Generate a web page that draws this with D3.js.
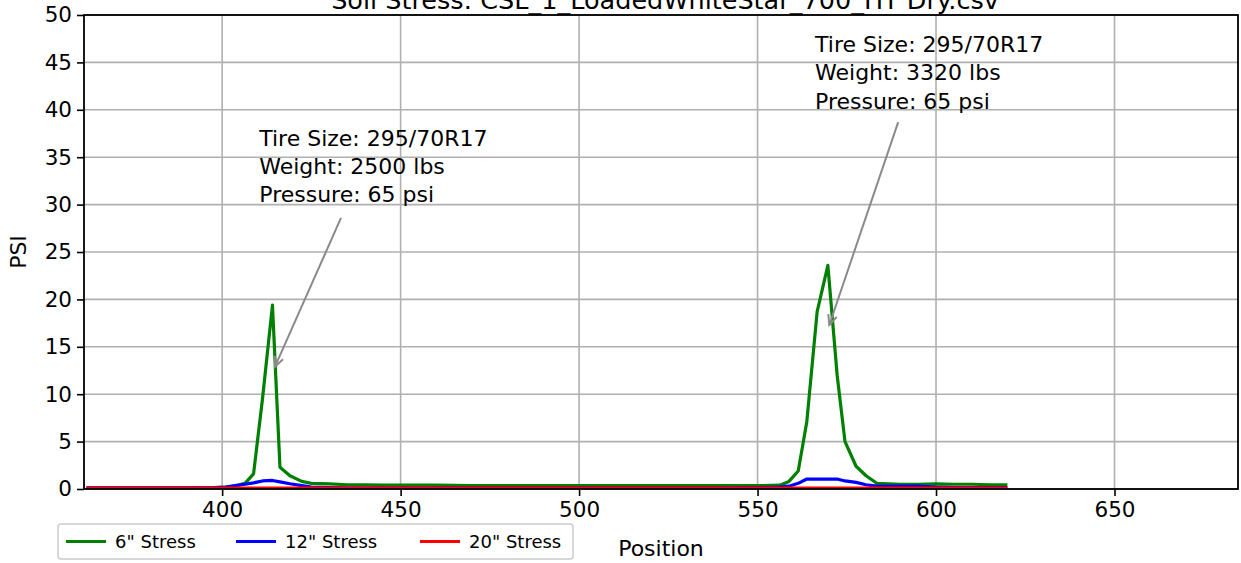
<!DOCTYPE html>
<html>
<head>
<meta charset="utf-8">
<script src="https://cdn.jsdelivr.net/npm/d3@7"></script>
<style>
  html, body { margin: 0; padding: 0; background: #fff; }
  svg { display: block; font-family: "DejaVu Sans", sans-serif; }
</style>
</head>
<body>
<svg id="chart" width="1241" height="563"></svg>
<script>
// ---- data ----
const titleText = "Soil Stress: CSL_1_LoadedWhiteStar_700_HT Dry.csv";
const positions = [362, 370, 380, 390, 398, 401, 403.6, 406.4, 408.8, 411.3, 414.1, 416.2, 419.0, 422.3, 425, 430, 435, 440, 445, 450, 460, 470, 480, 490, 500, 510, 520, 530, 540, 550, 556.3, 558.8, 561.4, 563.8, 566.7, 569.7, 572.3, 574.5, 577.6, 580.4, 583.4, 590, 595, 600, 605, 610, 615, 620];
const stress6 =  [0.1, 0.1, 0.1, 0.1, 0.15, 0.2, 0.3, 0.6, 1.6, 9.5, 19.4, 2.3, 1.4, 0.8, 0.6, 0.55, 0.45, 0.45, 0.4, 0.4, 0.4, 0.35, 0.35, 0.35, 0.35, 0.35, 0.35, 0.35, 0.35, 0.35, 0.4, 0.8, 1.9, 7.1, 18.7, 23.6, 12.0, 5.0, 2.4, 1.4, 0.6, 0.5, 0.5, 0.55, 0.5, 0.5, 0.45, 0.45];
const stress12 = [0.12, 0.12, 0.12, 0.12, 0.15, 0.2, 0.35, 0.5, 0.65, 0.85, 0.9, 0.75, 0.55, 0.35, 0.2, 0.15, 0.12, 0.12, 0.12, 0.12, 0.12, 0.12, 0.12, 0.12, 0.12, 0.12, 0.12, 0.12, 0.12, 0.15, 0.2, 0.3, 0.6, 1.05, 1.05, 1.05, 1.05, 0.85, 0.7, 0.45, 0.3, 0.3, 0.3, 0.2, 0.15, 0.15, 0.15, 0.15];
const stress20 = [0.1, 0.1, 0.1, 0.1, 0.1, 0.1, 0.1, 0.1, 0.1, 0.1, 0.1, 0.1, 0.1, 0.1, 0.1, 0.1, 0.1, 0.1, 0.1, 0.1, 0.1, 0.1, 0.1, 0.1, 0.1, 0.1, 0.1, 0.1, 0.1, 0.1, 0.1, 0.1, 0.1, 0.1, 0.1, 0.1, 0.1, 0.1, 0.1, 0.1, 0.1, 0.1, 0.1, 0.1, 0.1, 0.1, 0.1, 0.1];
const seriesNames = ['6" Stress', '12" Stress', '20" Stress'];
const seriesColors = ["#008000", "#0000ff", "#ff0000"];
const xTicks = [400, 450, 500, 550, 600, 650];
const yTicks = [0, 5, 10, 15, 20, 25, 30, 35, 40, 45, 50];
const xDomain = [361.3, 684.6];
const yDomain = [0, 50];
const annotations = [
  { lines: ["Tire Size: 295/70R17", "Weight: 2500 lbs", "Pressure: 65 psi"], textX: 410.4, textY: 36.2, fromX: 433.3, fromY: 28.6, toX: 414.8, toY: 12.9 },
  { lines: ["Tire Size: 295/70R17", "Weight: 3320 lbs", "Pressure: 65 psi"], textX: 566.1, textY: 46.1, fromX: 589.4, fromY: 38.7, toX: 570.1, toY: 17.3 }
];

// ---- layout ----
const W = 1241, H = 563;
const m = { left: 84, right: 3, top: 15, bottom: 74 };
const svg = d3.select("#chart");
const x = d3.scaleLinear().domain(xDomain).range([m.left, W - m.right]);
const y = d3.scaleLinear().domain(yDomain).range([H - m.bottom, m.top]);

const g = svg.append("g");

// grid
g.append("g").selectAll("line").data(xTicks).join("line")
  .attr("x1", d => x(d)).attr("x2", d => x(d))
  .attr("y1", y(50)).attr("y2", y(0))
  .attr("stroke", "#b0b0b0").attr("stroke-width", 1.6);
g.append("g").selectAll("line").data(yTicks).join("line")
  .attr("x1", x(xDomain[0])).attr("x2", x(xDomain[1]))
  .attr("y1", d => y(d)).attr("y2", d => y(d))
  .attr("stroke", "#b0b0b0").attr("stroke-width", 1.6);

// series
const allSeries = [stress6, stress12, stress20];
const line = d3.line().x((d, i) => x(positions[i])).y(d => y(d));
svg.append("clipPath").attr("id", "clip").append("rect")
  .attr("x", m.left).attr("y", m.top).attr("width", W - m.left - m.right).attr("height", H - m.top - m.bottom);
allSeries.forEach((s, k) => {
  g.append("path").datum(s)
    .attr("d", line)
    .attr("fill", "none")
    .attr("stroke", seriesColors[k])
    .attr("stroke-width", 3.2)
    .attr("stroke-linejoin", "round")
    .attr("clip-path", "url(#clip)");
});

// axes
const xAxis = d3.axisBottom(x).tickValues(xTicks).tickSize(7).tickPadding(6).tickFormat(d3.format("d"));
const yAxis = d3.axisLeft(y).tickValues(yTicks).tickSize(7).tickPadding(5).tickFormat(d3.format("d"));
const gx = g.append("g").attr("transform", `translate(0,${y(0)})`).call(xAxis);
const gy = g.append("g").attr("transform", `translate(${x(xDomain[0])},0)`).call(yAxis);
[gx, gy].forEach(a => {
  a.select(".domain").remove();
  a.selectAll(".tick line").attr("stroke", "#000").attr("stroke-width", 1.6);
  a.selectAll(".tick text").attr("fill", "#000").attr("font-size", 21.5).attr("font-family", "DejaVu Sans");
});
gx.selectAll(".tick text").attr("dy", "0.71em");

// frame
g.append("rect")
  .attr("x", x(xDomain[0])).attr("y", y(50))
  .attr("width", x(xDomain[1]) - x(xDomain[0])).attr("height", y(0) - y(50))
  .attr("fill", "none").attr("stroke", "#000").attr("stroke-width", 1.8);

// title (partly above the top edge, as in the reference)
svg.append("text").attr("x", (x(xDomain[0]) + x(xDomain[1])) / 2 + 4).attr("y", 8.5)
  .attr("text-anchor", "middle").attr("font-size", 25.5).attr("fill", "#000").text(titleText);

// axis labels
svg.append("text").attr("x", 661).attr("y", 556).attr("text-anchor", "middle")
  .attr("font-size", 22).attr("fill", "#000").text("Position");
svg.append("text").attr("transform", `translate(26,${(y(0) + y(50)) / 2}) rotate(-90)`)
  .attr("text-anchor", "middle").attr("font-size", 22).attr("fill", "#000").text("PSI");

// annotations
annotations.forEach((a) => {
  const t = svg.append("text").attr("x", x(a.textX)).attr("y", y(a.textY))
    .attr("font-size", 22).attr("fill", "#000");
  a.lines.forEach((l, j) => {
    t.append("tspan").attr("x", x(a.textX)).attr("dy", j === 0 ? 0 : 28.3).text(l);
  });
  const x1 = x(a.fromX), y1 = y(a.fromY), x2 = x(a.toX), y2 = y(a.toY);
  svg.append("line").attr("x1", x1).attr("y1", y1).attr("x2", x2).attr("y2", y2)
    .attr("stroke", "#8a8a8a").attr("stroke-width", 2);
  const ang = Math.atan2(y1 - y2, x1 - x2);
  const L = 11, spread = 0.42;
  const p = d3.path();
  p.moveTo(x2 + L * Math.cos(ang - spread), y2 + L * Math.sin(ang - spread));
  p.lineTo(x2, y2);
  p.lineTo(x2 + L * Math.cos(ang + spread), y2 + L * Math.sin(ang + spread));
  svg.append("path").attr("d", p.toString()).attr("fill", "none")
    .attr("stroke", "#8a8a8a").attr("stroke-width", 2);
});

// legend
const lg = svg.append("g");
lg.append("rect").attr("x", 58).attr("y", 524).attr("width", 515).attr("height", 35)
  .attr("rx", 3).attr("fill", "#fff").attr("stroke", "#cccccc").attr("stroke-width", 1.5);
const legX = [66, 236, 420];
seriesNames.forEach((n, k) => {
  lg.append("line").attr("x1", legX[k]).attr("x2", legX[k] + 40).attr("y1", 541.5).attr("y2", 541.5)
    .attr("stroke", seriesColors[k]).attr("stroke-width", 3.2);
  lg.append("text").attr("x", legX[k] + 49).attr("y", 541.5).attr("dy", "0.35em")
    .attr("font-size", 18).attr("fill", "#000").text(n);
});
</script>
</body>
</html>
